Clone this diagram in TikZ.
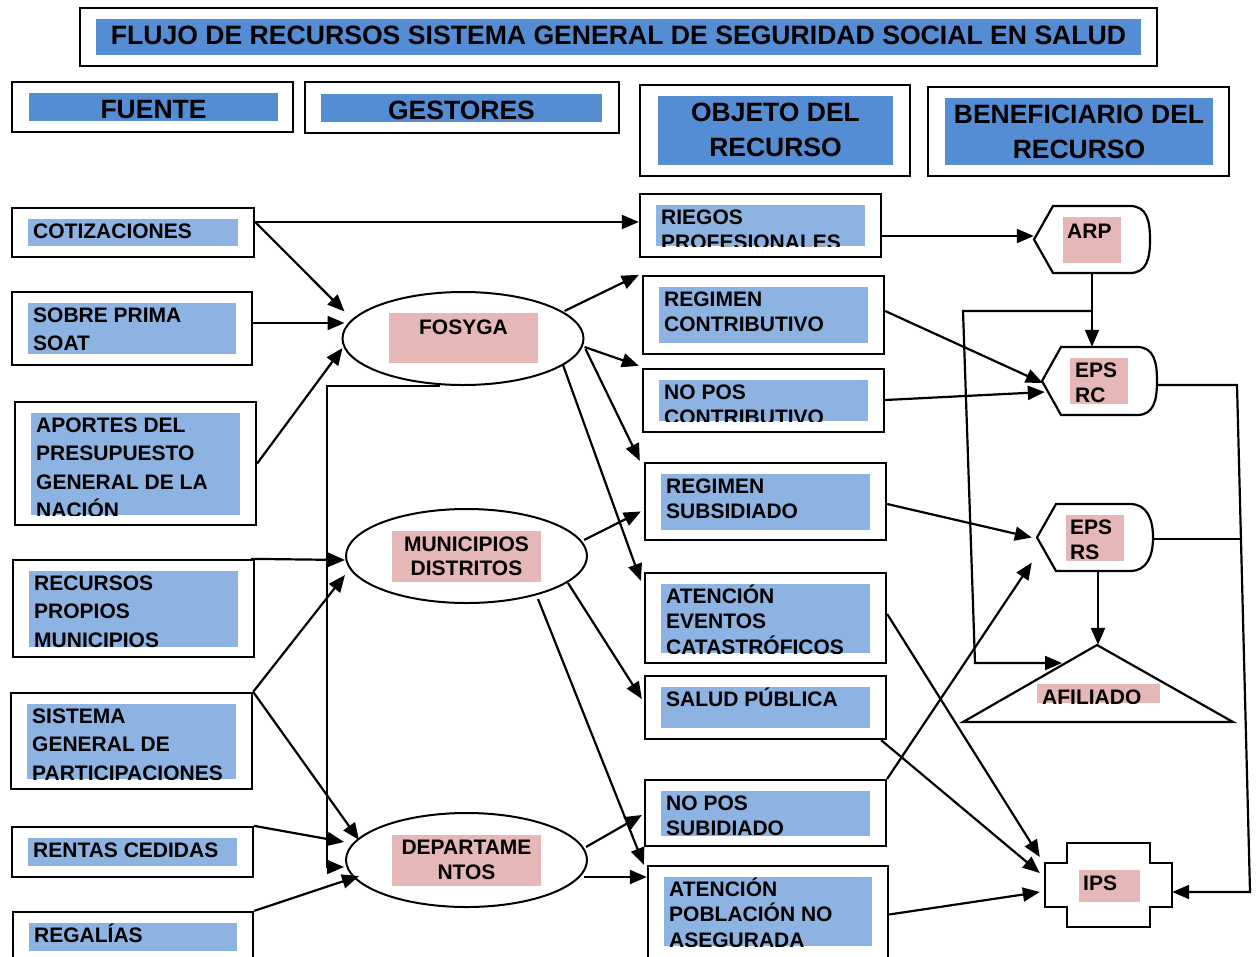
\documentclass[tikz,border=0pt]{standalone}
\usepackage{fontspec}
\setmainfont{Liberation Sans}
\usetikzlibrary{arrows.meta,shapes.geometric,fit,calc}
\definecolor{hdrblue}{RGB}{84,141,212}
\definecolor{boxblue}{RGB}{141,179,226}
\definecolor{pinkl}{RGB}{229,184,183}
\tikzset{
  frame/.style={draw=black, line width=2.3pt, inner sep=0pt},
  shp/.style={draw=black, line width=2.2pt, fill=white},
  conn/.style={line width=2.2pt},
  arr/.style={line width=2.2pt, -{Triangle[length=17pt,width=14pt]}},
  body/.style={inner sep=0pt, font=\bfseries\fontsize{21}{25}\selectfont},
  head/.style={inner sep=0pt, font=\bfseries\fontsize{26.5}{35.5}\selectfont},
  ghost/.style={inner sep=0pt, draw=none},
}
% name, ox1, oy1, ox2, oy2, blue bottom, baselineskip, text
\newcommand{\tbox}[8]{%
  \node[frame, fit={(#2,#3) (#4,#5)}] (#1) {};
  \begin{scope}
    \clip (#2+16,#3+10.5) rectangle (#4-16,#6);
    \fill[boxblue] (#2+16,#3+10.5) rectangle (#4-16,#6);
    \node[body, align=left, anchor=north west, font=\bfseries\fontsize{21}{#7}\selectfont] (#1-t) at (#2+21,#3+9) {\rule{0pt}{21pt}#8};
  \end{scope}}
% tip x, top y, bottom y, curve start x, right x
\newcommand{\dispshape}[5]{%
  \draw[shp] (#1,{(#2+#3)/2}) -- (#1+19,#2) -- (#4,#2) .. controls (#4+17,#2) and (#5,#2+15) .. (#5,{(#2+#3)/2}) .. controls (#5,#3-15) and (#4+17,#3) .. (#4,#3) -- (#1+19,#3) -- cycle;}
\begin{document}
\begin{tikzpicture}[x=1pt,y=-1pt]
\useasboundingbox (0,0) rectangle (1260,956);
\fill[white] (0,0) rectangle (1260,956);

% ---------- headers
\node[frame, fit={(80,8) (1157,66)}] (title) {};
\fill[hdrblue] (96,19) rectangle (1141,55);
\node[head, anchor=base, font=\bfseries\fontsize{26.6}{32}\selectfont] (title-t) at (618.5,44.5) {FLUJO DE RECURSOS SISTEMA GENERAL DE SEGURIDAD SOCIAL EN SALUD};

\node[frame, fit={(12,82) (293,132)}] (hfu) {};
\fill[hdrblue] (29,93) rectangle (278,121);
\node[head, anchor=base] (hfu-t) at (153.5,118) {FUENTE};

\node[frame, fit={(305,82) (619,133)}] (hge) {};
\fill[hdrblue] (321,94) rectangle (602,122);
\node[head, anchor=base] (hge-t) at (461.5,119) {GESTORES};

\node[frame, fit={(640,85) (910,176)}] (hob) {};
\fill[hdrblue] (658,96) rectangle (893,165);
\node[head, align=center, anchor=north] (hob-t) at (775.5,95) {\rule{0pt}{26pt}OBJETO DEL\\RECURSO};

\node[frame, fit={(928,87) (1229,176)}] (hbe) {};
\fill[hdrblue] (945,98) rectangle (1213,165);
\node[head, align=center, anchor=north] (hbe-t) at (1079,97) {\rule{0pt}{26pt}BENEFICIARIO DEL\\RECURSO};

% ---------- fuente
\tbox{cot}{12}{208}{254}{257}{246}{28.5}{COTIZACIONES}
\tbox{sp}{12}{292}{252}{365}{354}{28}{SOBRE PRIMA\\SOAT}
\tbox{ap}{15}{402}{256}{525}{515}{28.5}{APORTES DEL\\PRESUPUESTO\\GENERAL DE LA\\NACIÓN}
\tbox{rpm}{13}{560}{254}{657}{647}{28.5}{RECURSOS\\PROPIOS\\MUNICIPIOS}
\tbox{sgp}{11}{693}{252}{789}{779}{28.5}{SISTEMA\\GENERAL DE\\PARTICIPACIONES}
\tbox{rc}{12}{827}{253}{877}{866}{28.5}{RENTAS CEDIDAS}
\tbox{reg}{13}{912}{253}{985}{951}{28.5}{REGALÍAS}

% ---------- objeto
\tbox{rp}{640}{194}{881}{257}{246}{25.5}{RIEGOS\\PROFESIONALES}
\tbox{rcon}{643}{276}{884}{354}{343}{25.5}{REGIMEN\\CONTRIBUTIVO}
\tbox{npc}{643}{369}{884}{432}{421}{25.5}{NO POS\\CONTRIBUTIVO}
\tbox{rs}{645}{463}{886}{540}{530}{25.5}{REGIMEN\\SUBSIDIADO}
\tbox{aec}{645}{573}{886}{663}{653}{25.5}{ATENCIÓN\\EVENTOS\\CATASTRÓFICOS}
\tbox{sal}{645}{676}{886}{739}{728}{25.5}{SALUD PÚBLICA}
\tbox{nps}{645}{780}{886}{846}{836}{25.5}{NO POS\\SUBIDIADO}
\tbox{apna}{648}{866}{888}{985}{946}{25.5}{ATENCIÓN\\POBLACIÓN NO\\ASEGURADA}

% ---------- gestores
\node[frame, ellipse, line width=2pt, minimum width=241pt, minimum height=93pt] (fos) at (463,338.5) {};
\fill[pinkl] (389,313) rectangle (538,363);
\node[body, anchor=base] (fos-t) at (463.5,334) {FOSYGA};

\node[frame, ellipse, line width=2pt, minimum width=241pt, minimum height=94pt] (mun) at (466.5,556) {};
\fill[pinkl] (392,531) rectangle (541,582);
\node[body, align=center, anchor=north, font=\bfseries\fontsize{21}{24}\selectfont] (mun-t) at (466.5,530) {\rule{0pt}{21pt}MUNICIPIOS\\DISTRITOS};

\node[frame, ellipse, line width=2pt, minimum width=241pt, minimum height=94pt] (dep) at (466.5,860) {};
\fill[pinkl] (392,835) rectangle (541,886);
\node[body, align=center, anchor=north, font=\bfseries\fontsize{21}{25}\selectfont] (dep-t) at (466.5,833) {\rule{0pt}{21pt}DEPARTAME\\NTOS};

% ---------- beneficiarios
\dispshape{1034}{206}{273}{1130}{1150}
\node[ghost, fit={(1034,206) (1150,273)}] (arp) {};
\fill[pinkl] (1063,217) rectangle (1121,263);
\node[body, anchor=base west] (arp-t) at (1067,238) {ARP};

\dispshape{1042}{347}{415}{1137}{1157}
\node[ghost, fit={(1042,347) (1157,415)}] (epsrc) {};
\fill[pinkl] (1070,358) rectangle (1128,404);
\node[body, align=left, anchor=north west] (epsrc-t) at (1075,356) {\rule{0pt}{21pt}EPS\\RC};

\dispshape{1037}{504}{571}{1130}{1153}
\node[ghost, fit={(1037,504) (1153,571)}] (epsrs) {};
\fill[pinkl] (1066,515) rectangle (1124,561);
\node[body, align=left, anchor=north west] (epsrs-t) at (1070,513) {\rule{0pt}{21pt}EPS\\RS};

\draw[shp] (1097,645) -- (1233,722) -- (963,722) -- cycle;
\node[ghost, fit={(963,645) (1233,722)}] (afi) {};
\begin{scope}
  \clip (1037,684) rectangle (1160,703);
  \fill[pinkl] (1037,684) rectangle (1160,703);
  \node[body, anchor=base west] (afi-t) at (1042,704) {AFILIADO};
\end{scope}

\draw[shp] (1067,843) -- (1150,843) -- (1150,863) -- (1172,863) -- (1172,907) -- (1150,907) -- (1150,927) -- (1067,927) -- (1067,907) -- (1045,907) -- (1045,863) -- (1067,863) -- cycle;
\node[ghost, fit={(1045,843) (1172,927)}] (ips) {};
\fill[pinkl] (1079,870) rectangle (1140,902);
\node[body, anchor=base west] (ips-t) at (1083,890) {IPS};

% ---------- helper coordinates
\coordinate (d2) at ([xshift=-4pt,yshift=-17pt]dep.east);
\coordinate (rpo) at ([yshift=-10.5pt]rp.east);
\coordinate (k0) at (1092,311);
\coordinate (k1) at (963,311);
\coordinate (k2) at (975,663);
\coordinate (afiL) at (1062,663);
\coordinate (r1) at (1237,385);
\coordinate (r2) at (1250,892);
\coordinate (r3) at (1241,539);

% ---------- connectors fuente -> gestores
\draw[arr] ([yshift=10.5pt]cot.east) -- ([yshift=3.5pt]rp.west);
\draw[arr] ([yshift=10.5pt]cot.east) -- ([xshift=3pt,yshift=27pt]fos.west);
\draw[arr] ([yshift=5.5pt]sp.east) -- ([xshift=3pt,yshift=15.5pt]fos.west);
\draw[arr] (ap.east) -- ([xshift=1pt,yshift=-9.5pt]fos.west);
\draw[arr] ([xshift=-23pt]fos.south) -| ([xshift=-18pt,yshift=-7pt]dep.west) -- ([xshift=-1pt,yshift=-7pt]dep.west);
\draw[arr] ([xshift=-4pt]rpm.north east) -- ([yshift=-4pt]mun.west);
\draw[arr] (sgp.north east) -- ([yshift=-19pt]mun.west);
\draw[arr] (sgp.north east) -- ([xshift=14pt,yshift=20pt]dep.west);
\draw[arr] (rc.north east) -- ([xshift=-1pt,yshift=18pt]dep.west);
\draw[arr] (reg.north east) -- ([xshift=14pt,yshift=-16pt]dep.west);

% ---------- gestores -> objeto
\draw[arr] ([xshift=-20pt,yshift=27.5pt]fos.east) -- ([xshift=-3pt]rcon.north west);
\draw[arr] ([yshift=-8.5pt]fos.east) -- ([xshift=-3pt,yshift=2pt]npc.north west);
\draw[arr] ([xshift=1pt,yshift=-10.5pt]fos.east) -- ([xshift=-4pt,yshift=1pt]rs.north west);
\draw[arr] ([xshift=-21.5pt,yshift=-26.5pt]fos.east) -- ([xshift=-3pt,yshift=-9pt]aec.north west);
\draw[arr] ([xshift=-4pt,yshift=16pt]mun.east) -- ([xshift=-3pt,yshift=-10pt]rs.west);
\draw[arr] ([xshift=-20pt,yshift=-27pt]mun.east) -- ([xshift=-2pt,yshift=8.5pt]sal.west);
\draw[arr] ([xshift=71.5pt,yshift=5pt]mun.south) -- ([xshift=-3pt]apna.north west);
\draw[arr] ([xshift=-2pt,yshift=13pt]dep.east) -- ([xshift=-2pt,yshift=-2pt]nps.west);
\draw[arr] (d2) -- (d2 -| apna.west);

% ---------- objeto -> beneficiario
\draw[arr] (rpo) -- (rpo -| arp.west);
\draw[arr] ([yshift=4pt]rcon.east) -- ([xshift=1pt,yshift=-2pt]epsrc.west);
\draw[arr] ([yshift=0.5pt]npc.east) -- ([xshift=3pt,yshift=-11pt]epsrc.west);
\draw[arr] ([yshift=-2.5pt]rs.east) -- ([xshift=-5pt]epsrs.west);
\draw[arr] ([yshift=4pt]aec.east) -- ([xshift=-5pt,yshift=28pt]ips.west);
\draw[arr] ([xshift=-6pt]sal.south east) -- ([xshift=-5pt,yshift=12pt]ips.west);
\draw[arr] (nps.north east) -- ([xshift=-5pt,yshift=-25pt]epsrs.west);
\draw[arr] ([yshift=11pt]apna.east) -- ([xshift=-5pt,yshift=-7pt]ips.west);

% ---------- beneficiario links
\draw[arr] (arp.south) -- (arp.south |- epsrc.north);
\draw[arr] (k0) -- (k1) -- (k2) -- (afiL);
\draw[arr] (afi.north |- epsrs.south) -- (afi.north);
\draw[arr] ([yshift=-4pt]epsrc.east) -- (r1) -- (r2) -- ([yshift=-7pt]ips.east);
\draw[conn] ([yshift=-1.5pt]epsrs.east) -- (r3);
\end{tikzpicture}
\end{document}
